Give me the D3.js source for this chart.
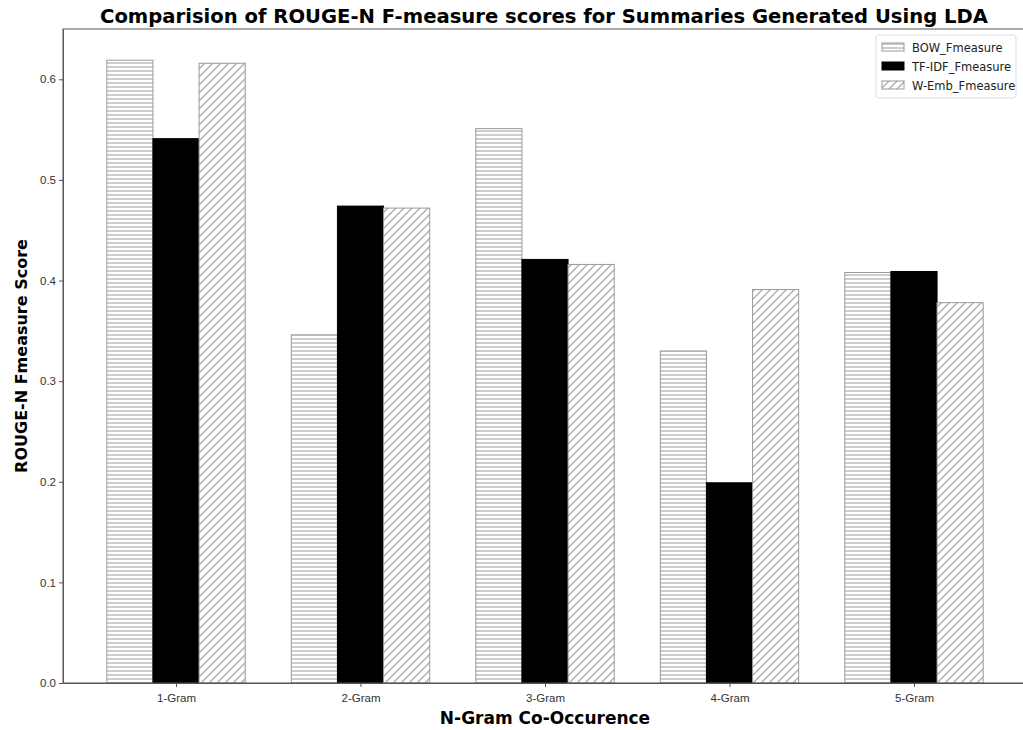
<!DOCTYPE html>
<html>
<head>
<meta charset="utf-8">
<script src="https://cdn.jsdelivr.net/npm/d3@7"></script>
<style>
  body { margin: 0; background: #fff; }
  svg { font-family: "DejaVu Sans", sans-serif; }
  .tick text { fill: #333; font-size: 11.5px; }
  .tick line, .domain { stroke: #555; }
</style>
</head>
<body>
<svg id="chart" width="1023" height="730"></svg>
<script>
var categories = ["1-Gram", "2-Gram", "3-Gram", "4-Gram", "5-Gram"];
var seriesNames = ["BOW_Fmeasure", "TF-IDF_Fmeasure", "W-Emb_Fmeasure"];
var bowValues = [0.619, 0.346, 0.551, 0.330, 0.408];
var tfidfValues = [0.541, 0.474, 0.421, 0.199, 0.409];
var wembValues = [0.616, 0.472, 0.416, 0.391, 0.378];
var yTicks = [0.0, 0.1, 0.2, 0.3, 0.4, 0.5, 0.6];

var svg = d3.select("svg#chart"),
  margin = {top: 29, right: -4, bottom: 47, left: 63},
  width = 1023 - margin.left - margin.right,
  height = 730 - margin.top - margin.bottom;

var series = [
  {name: seriesNames[0], values: bowValues, fill: "url(#hatchH)"},
  {name: seriesNames[1], values: tfidfValues, fill: "#000"},
  {name: seriesNames[2], values: wembValues, fill: "url(#hatchD)"}
];

var barW = 0.25;
// matplotlib style x limits: bar extents plus 5% margin
var lo = -1.5 * barW, hi = categories.length - 1 + 1.5 * barW, pad = (hi - lo) * 0.05;
var x = d3.scaleLinear().domain([lo - pad, hi + pad]).range([0, width]);
var y = d3.scaleLinear().domain([0, 0.65]).range([height, 0]);

var defs = svg.append("defs");
var ph = defs.append("pattern").attr("id", "hatchH").attr("patternUnits", "userSpaceOnUse")
  .attr("width", 8).attr("height", 4);
ph.append("rect").attr("width", 8).attr("height", 4).attr("fill", "#fff");
ph.append("line").attr("x1", 0).attr("x2", 8).attr("y1", 2).attr("y2", 2)
  .attr("stroke", "#aaa").attr("stroke-width", 1.2);

var pd = defs.append("pattern").attr("id", "hatchD").attr("patternUnits", "userSpaceOnUse")
  .attr("width", 8).attr("height", 8);
pd.append("rect").attr("width", 8).attr("height", 8).attr("fill", "#fff");
pd.append("path").attr("d", "M-2,2 L2,-2 M0,8 L8,0 M6,10 L10,6")
  .attr("stroke", "#aaa").attr("stroke-width", 1.3);

var g = svg.append("g").attr("transform", "translate(" + margin.left + "," + margin.top + ")");

series.forEach(function(s, si) {
  g.selectAll(".bar" + si)
    .data(s.values)
    .enter().append("rect")
    .attr("x", function(d, i) { return x(i + (si - 1) * barW - barW / 2); })
    .attr("width", x(barW) - x(0))
    .attr("y", function(d) { return y(d); })
    .attr("height", function(d) { return height - y(d); })
    .attr("fill", s.fill)
    .attr("stroke", si === 1 ? "#000" : "#999")
    .attr("stroke-width", 1);
});

// frame
g.append("rect").attr("width", width).attr("height", height)
  .attr("fill", "none").attr("stroke", "#555").attr("stroke-width", 1);

g.append("g")
  .attr("transform", "translate(0," + height + ")")
  .call(d3.axisBottom(x).tickValues(d3.range(categories.length))
    .tickFormat(function(i) { return categories[i]; }).tickSize(4).tickSizeOuter(0))
  .call(function(a) { a.selectAll("text").attr("dy", "1.05em"); });

g.append("g")
  .call(d3.axisLeft(y).tickValues(yTicks).tickFormat(d3.format(".1f")).tickSize(4).tickSizeOuter(0));

svg.append("text")
  .attr("x", margin.left + width / 2 - 1).attr("y", 23)
  .attr("text-anchor", "middle").attr("font-size", 19.6).attr("font-weight", "bold")
  .text("Comparision of ROUGE-N F-measure scores for Summaries Generated Using LDA");

svg.append("text")
  .attr("x", margin.left + width / 2).attr("y", 724)
  .attr("text-anchor", "middle").attr("font-size", 17).attr("font-weight", "bold")
  .text("N-Gram Co-Occurence");

svg.append("text")
  .attr("transform", "translate(27," + (margin.top + height / 2) + ") rotate(-90)")
  .attr("text-anchor", "middle").attr("font-size", 16).attr("font-weight", "bold")
  .text("ROUGE-N Fmeasure Score");

// legend
var leg = svg.append("g").attr("transform", "translate(876,35)");
leg.append("rect").attr("width", 140).attr("height", 63).attr("rx", 3)
  .attr("fill", "#fff").attr("stroke", "#ddd");
series.forEach(function(s, i) {
  var row = leg.append("g").attr("transform", "translate(6," + (7 + i * 19) + ")");
  row.append("rect").attr("width", 22).attr("height", 8).attr("y", 1)
    .attr("fill", s.fill).attr("stroke", i === 1 ? "#000" : "#999");
  row.append("text").attr("x", 30).attr("y", 9.5).attr("font-size", 11.5).attr("fill", "#222")
    .text(s.name);
});
</script>
</body>
</html>
